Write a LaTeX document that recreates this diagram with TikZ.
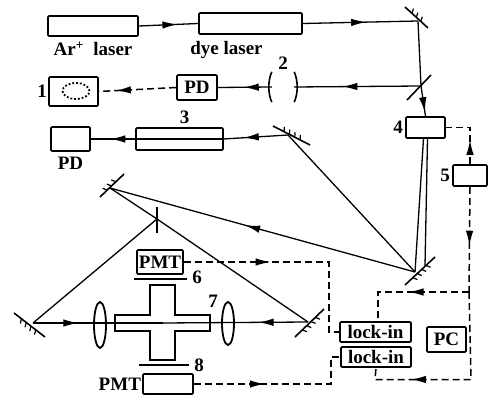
\documentclass[tikz,border=0pt]{standalone}
\usepackage{fontspec}
\setmainfont{Liberation Serif}
\usetikzlibrary{arrows.meta,positioning,calc,shapes.geometric,decorations.markings}
\tikzset{
  devbox/.style={draw,line width=1.7pt,rounded corners=1pt,inner sep=0pt,font=\fontsize{19}{19}\selectfont\bfseries},
  numlabel/.style={inner sep=0pt,font=\fontsize{19}{19}\selectfont\bfseries},
  beamline/.style={line width=1.3pt},
  dashline/.style={line width=1.5pt,dash pattern=on 7pt off 4pt},
  tipat/.style={postaction={decorate,decoration={markings,mark=at position #1 with {\arrow{Latex[length=15pt,width=7.5pt]}}}}},
  splitline/.style={line width=1.6pt},
  mirrorline/.style={line width=1.6pt,postaction={decorate,decoration={markings,
    mark=between positions 0.3 and 0.8 step 6pt with {\draw[line width=1.2pt] (0pt,0pt)--(-2pt,4.5pt);}}}},
}

\begin{document}
\begin{tikzpicture}[x=1pt,y=-1pt]
  \useasboundingbox (0,0) rectangle (495,395);
  % sources
  \node[devbox,minimum width=90pt,minimum height=20pt] (arlaser) at (93,26) {};
  \node[devbox,minimum width=103pt,minimum height=21pt] (dyelaser) at (250.5,23.5) {};
  \node[numlabel,below=5pt of arlaser] (arlabel) {Ar\textsuperscript{+}\,\,\,laser};
  \node[numlabel,below=6pt of dyelaser,xshift=-24pt] (dyelabel) {dye laser};
  \coordinate (m1) at (418,21);
  \coordinate (m2) at (421,86);
  \coordinate (m3) at (288,135);
  \coordinate (m4) at (110,188);
  \coordinate (m5a) at (415,272);
  \coordinate (m5b) at (425,266);
  \coordinate (m6) at (157,219);
  \coordinate (m7) at (33,323);
  \coordinate (m8) at (308,322);
  \draw[mirrorline] (405,7)--(428,28);
  \draw[splitline] (407,100)--(431,75);
  \draw[mirrorline] (273,126)--(310,145);
  \draw[mirrorline] (100,197)--(124,174);
  \draw[mirrorline] (435,257)--(405,285);
  \draw[splitline] (157,207)--(157,233);
  \draw[mirrorline] (45,337)--(14,313);
  \draw[mirrorline] (324,309)--(295,337);
  % second row
  \node[devbox,minimum width=49pt,minimum height=29pt] (scope) at (73.5,91.5) {};
  \node[draw,ellipse,dotted,line width=1.8pt,minimum width=27pt,minimum height=16pt,inner sep=0pt] (trace) at (76,91) {};
  \node[numlabel,left=1pt of scope] (n1) {1};
  \node[devbox,minimum width=40pt,minimum height=25pt] (pda) at (197,87.5) {PD};
  \node[minimum width=22pt,minimum height=30pt,inner sep=0pt] (etalon) at (283,87) {};
  \node[numlabel,above=-3pt of etalon,yshift=5pt] (n2) {2};
  \draw[line width=1.6pt] (etalon.north west) .. controls +(-4,9) and +(-4,-9) .. (etalon.south west);
  \draw[line width=1.6pt] (etalon.north east) .. controls +(4,9) and +(4,-9) .. (etalon.south east);
  % third row
  \node[devbox,minimum width=39pt,minimum height=24pt] (pdb) at (70.5,139) {};
  \node[numlabel,below=5pt of pdb] (pdlabel) {PD};
  \node[devbox,minimum width=87pt,minimum height=22pt] (tube) at (179.5,139) {};
  \node[numlabel,above=3pt of tube,xshift=5pt] (n3) {3};
  % modulator and driver
  \node[devbox,minimum width=39pt,minimum height=21pt] (box4) at (425.5,127.5) {};
  \node[numlabel,left=2pt of box4] (n4) {4};
  \node[devbox,minimum width=34pt,minimum height=21pt] (box5) at (470,175.5) {};
  \node[numlabel,left=2pt of box5] (n5) {5};
  % cell
  \node[draw,ellipse,line width=1.8pt,minimum width=12pt,minimum height=46pt,inner sep=0pt] (lensa) at (100,325) {};
  \node[draw,ellipse,line width=1.8pt,minimum width=12pt,minimum height=43pt,inner sep=0pt] (lensb) at (228,323.5) {};
  \coordinate (cell) at (162.5,323);
  \draw[line width=1.6pt] (115,315)--(150,315)--(150,285)--(175,285)--(175,315)--(210,315)--(210,331)--(175,331)--(175,360)--(150,360)--(150,331)--(115,331)--cycle;
  \node[numlabel] (n7) at (213,301) {7};
  \node[devbox,minimum width=46pt,minimum height=24pt] (pmta) at (160,262) {PMT};
  \draw[splitline] (134,279)--(187,279);
  \node[numlabel] (n6) at (197,277) {6};
  \draw[splitline] (139,365)--(189,365);
  \node[numlabel] (n8) at (199,365) {8};
  \node[devbox,minimum width=50pt,minimum height=20pt] (pmtb) at (168,384) {};
  \node[numlabel,left=1pt of pmtb] (pmtlabel) {PMT};
  % electronics
  \node[devbox,minimum width=71pt,minimum height=20pt] (locka) at (375.5,332) {lock-in};
  \node[devbox,minimum width=70pt,minimum height=20pt] (lockb) at (376,357) {lock-in};
  \node[devbox,minimum width=39pt,minimum height=25pt] (pc) at (446.5,339.5) {PC};
  \coordinate (jn) at (469,292);
  % beams
  \draw[beamline,tipat=0.65] (arlaser.east)--(dyelaser.west);
  \draw[beamline,tipat=0.55] (dyelaser.east)--(m1);
  \draw[beamline] (m1)--(m2);
  \draw[beamline,tipat=0.87] (m2)--(box4.north);
  \draw[beamline,tipat=0.62] (m2)--(etalon.east);
  \draw[beamline,tipat=0.52] (etalon.west)--(pda.east);
  \draw[dashline,tipat=0.78] (pda.west)--(scope.east);
  \draw[beamline,tipat=0.69] (m3)--(tube.east);
  \draw[beamline] (tube.east)--(tube.west);
  \draw[beamline,tipat=0.56] (tube.west)--(pdb.east);
  \draw[beamline] ($(box4.south)+(-2,0)$)--(m5a);
  \draw[beamline] ($(box4.south)+(2,0)$)--(m5b);
  \draw[beamline] (m3)--(m5a);
  \draw[beamline,tipat=0.557] (m5a)--(m4);
  \draw[beamline] (m4)--(m6);
  \draw[beamline] (m6)--(m7);
  \draw[beamline] (m6)--(m8);
  \draw[beamline,tipat=0.35] (m7)--(cell);
  \draw[beamline,tipat=0.34] (m8)--(cell);
  % signals
  \draw[dashline,tipat=0.385] (pmta.east) -- (329,262) |- (locka.west);
  \draw[dashline,tipat=0.41] (pmtb.east) -- (331,384) |- (lockb.west);
  \draw[dashline,tipat=0.40] (box5.north) |- (box4.east);
  \draw[dashline,tipat=0.56] (box5.south)--(jn);
  \draw[dashline,tipat=0.5] (jn) -- (378,292) -- (378,322);
  \draw[dashline,tipat=0.756] (jn) -- (471,379.5) -- (375,379.5) -- (lockb.south);
\end{tikzpicture}
\end{document}
